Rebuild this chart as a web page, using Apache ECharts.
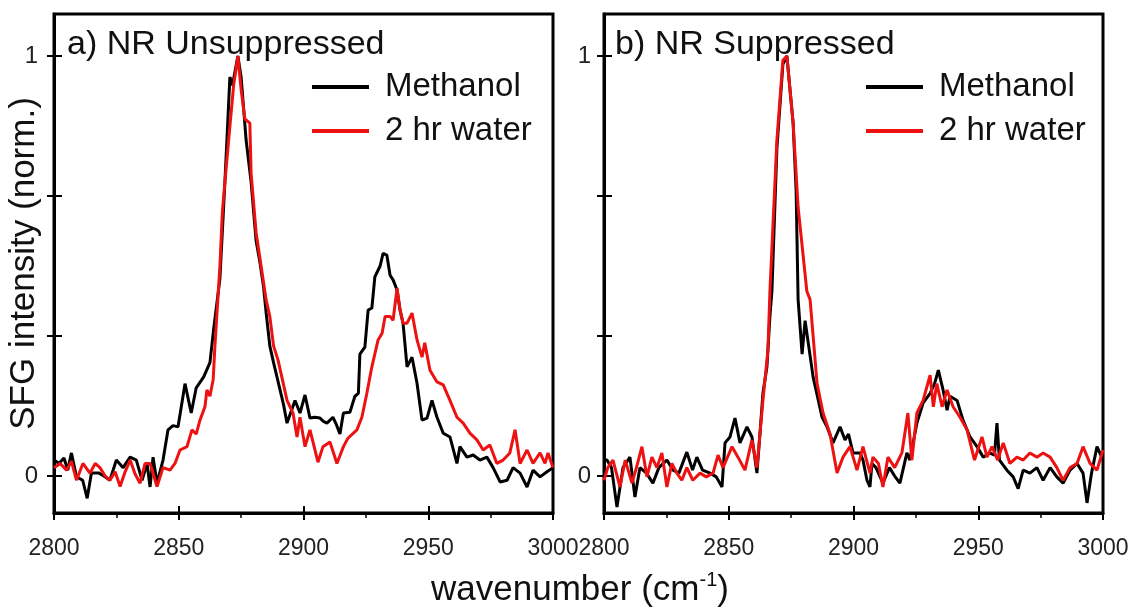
<!DOCTYPE html>
<html><head><meta charset="utf-8">
<script src="https://cdn.jsdelivr.net/npm/echarts@6/dist/echarts.min.js"></script>
<style>html,body{margin:0;padding:0;background:#fff}#c{width:1130px;height:611px}</style>
</head><body><div id="c"></div>
<script>
// ---- data: [wavenumber (cm-1), normalized SFG intensity] ----
const panelTitles = ['a) NR Unsuppressed', 'b) NR Suppressed'];
const seriesNames = ['Methanol', '2 hr water'];
const xTicks = [2800, 2850, 2900, 2950, 3000];
const yTickValues = [0, 1/3, 2/3, 1];
const yLabelValues = [0, 1];

const unsuppMethanol = [[2800,0.038],[2802,0.03],[2804,0.043],[2805.5,0.014],[2807,0.055],[2809,-0.002],[2811.5,-0.01],[2813.3,-0.053],[2815,0.007],[2818,0.007],[2820,0.0],[2822.4,-0.01],[2825,0.038],[2827.7,0.02],[2830.5,0.045],[2833,0.038],[2835.3,-0.01],[2837.3,0.03],[2838.5,-0.026],[2839.7,0.045],[2841.3,-0.017],[2843.7,0.038],[2845.7,0.11],[2847.7,0.12],[2849.7,0.117],[2851.7,0.19],[2852.5,0.22],[2855,0.15],[2857,0.21],[2860,0.236],[2862.5,0.27],[2864,0.35],[2866.5,0.47],[2868.5,0.70],[2870.5,0.95],[2871.5,0.93],[2873.7,1.0],[2875,0.95],[2877,0.8],[2879,0.70],[2881,0.56],[2882.5,0.51],[2884,0.45],[2885,0.39],[2886.5,0.31],[2888,0.27],[2890.6,0.205],[2892,0.17],[2893.4,0.126],[2896.6,0.18],[2898.6,0.15],[2900.6,0.193],[2902.6,0.138],[2904.5,0.14],[2906.6,0.138],[2908,0.13],[2909.4,0.126],[2911.8,0.14],[2913,0.125],[2914.6,0.10],[2916,0.15],[2918.6,0.152],[2920.6,0.19],[2922,0.197],[2922.6,0.29],[2924.6,0.307],[2925.9,0.395],[2927.4,0.40],[2928.6,0.474],[2930.7,0.50],[2931.9,0.53],[2933.4,0.526],[2934.7,0.478],[2935.9,0.467],[2937.5,0.443],[2938.7,0.395],[2939.9,0.364],[2941.5,0.26],[2943.5,0.283],[2945.5,0.221],[2947.5,0.133],[2949.5,0.138],[2951.5,0.18],[2953.5,0.14],[2956,0.102],[2958.7,0.093],[2961.5,0.03],[2962.7,0.07],[2965.5,0.045],[2968,0.05],[2970.7,0.038],[2973.5,0.045],[2976,0.02],[2978.8,-0.014],[2981.6,-0.01],[2984,0.02],[2986.8,0.007],[2989.6,-0.026],[2992,0.014],[2994.8,-0.002],[2997.6,0.01],[3000,0.02]];

const unsuppWater = [[2800,0.02],[2802.5,0.03],[2805,0.014],[2807,0.035],[2809,-0.01],[2811.6,0.03],[2814.4,0.007],[2816.5,0.03],[2818.4,0.02],[2820.5,0.0],[2822.4,-0.01],[2824.5,0.01],[2826.5,-0.025],[2828.5,0.01],[2830.5,0.038],[2832.5,0.005],[2834.5,-0.017],[2836.5,0.03],[2838.5,0.03],[2840,0.0],[2841.3,-0.025],[2843.7,0.02],[2846.5,0.014],[2848.5,0.03],[2850.5,0.062],[2853.3,0.07],[2855.3,0.11],[2857,0.1],[2858.5,0.133],[2860.5,0.165],[2861.3,0.205],[2862.5,0.19],[2863.8,0.23],[2864.5,0.31],[2866.5,0.50],[2867.5,0.63],[2868.5,0.70],[2870,0.8],[2872,0.93],[2873.7,1.0],[2875,0.92],[2876.5,0.85],[2878.5,0.84],[2879,0.72],[2881,0.58],[2883,0.50],[2885,0.42],[2886.5,0.38],[2888,0.31],[2889.8,0.276],[2890.5,0.28],[2893.4,0.18],[2895.8,0.15],[2897.4,0.093],[2898.6,0.14],[2900.6,0.07],[2902.6,0.11],[2905.8,0.033],[2907.8,0.07],[2910.6,0.081],[2913.4,0.03],[2916,0.07],[2917.8,0.09],[2921.4,0.11],[2923.4,0.14],[2925.4,0.197],[2927.4,0.26],[2929.9,0.324],[2931.5,0.34],[2932.7,0.38],[2934.7,0.38],[2935.9,0.371],[2937.5,0.447],[2938.7,0.395],[2939.9,0.364],[2941.5,0.364],[2943.5,0.388],[2945.5,0.324],[2947.5,0.283],[2948.6,0.317],[2950.7,0.252],[2953.5,0.224],[2956,0.217],[2958.7,0.18],[2961.5,0.14],[2964,0.126],[2966.7,0.102],[2969.5,0.086],[2972,0.062],[2974.7,0.074],[2977.5,0.03],[2980,0.038],[2982.7,0.055],[2984.8,0.11],[2986.8,0.03],[2989.6,0.062],[2992,0.03],[2994.8,0.055],[2996.8,0.03],[2998,0.055],[3000,0.02]];

const suppMethanol = [[2800,0.038],[2801.2,0.038],[2803,0.02],[2805.2,-0.074],[2807.6,0.02],[2810.4,0.045],[2812.4,-0.05],[2814.4,0.02],[2817,0.007],[2819.6,-0.017],[2822,0.02],[2825.2,0.038],[2827.7,0.014],[2830,0.007],[2833.2,0.057],[2835.5,0.014],[2837.2,0.045],[2839.5,0.014],[2842.5,0.007],[2845,-0.002],[2847.3,-0.026],[2848.5,0.079],[2850.5,0.093],[2852.5,0.138],[2854.5,0.079],[2857.3,0.117],[2859.3,0.093],[2861.3,0.007],[2862.5,0.10],[2863.7,0.197],[2865.3,0.26],[2866.5,0.38],[2867.3,0.44],[2869.3,0.78],[2871.7,0.98],[2873.3,1.0],[2875.8,0.84],[2877,0.68],[2877.8,0.42],[2879.4,0.29],[2880.6,0.37],[2883.8,0.236],[2887.4,0.14],[2889.4,0.117],[2891.8,0.079],[2894.6,0.117],[2896.6,0.086],[2898,0.10],[2899.8,0.055],[2902.6,0.055],[2903.8,0.038],[2905.4,-0.01],[2906.6,-0.026],[2907.4,0.03],[2909,0.02],[2911.8,-0.017],[2914.4,0.02],[2916.5,0.0],[2918.6,-0.017],[2921.4,0.055],[2922.6,0.038],[2925.4,0.126],[2927.9,0.174],[2930.7,0.197],[2932.5,0.22],[2934,0.252],[2935.9,0.205],[2937.5,0.157],[2938.7,0.19],[2941.5,0.18],[2943.9,0.133],[2946.7,0.093],[2949.5,0.07],[2952,0.045],[2954.5,0.055],[2956.5,0.05],[2957.5,0.126],[2958.5,0.038],[2961.5,0.014],[2964,-0.002],[2966,-0.03],[2968,0.014],[2970.7,0.007],[2973.5,0.02],[2976,-0.01],[2978.8,0.02],[2981.5,-0.002],[2984,-0.017],[2986.8,0.014],[2989.6,0.03],[2992,0.007],[2993.6,-0.064],[2995.4,0.007],[2997.6,0.07],[3000,0.038]];

const suppWater = [[2800,-0.01],[2801.5,0.02],[2803.6,0.038],[2806.4,-0.026],[2808.5,0.038],[2811.2,-0.017],[2813,0.02],[2815.2,0.07],[2817.2,-0.002],[2819.2,0.045],[2821.2,0.02],[2823.2,0.055],[2825.2,-0.026],[2827.2,0.03],[2829.2,0.007],[2831.2,-0.01],[2833.2,0.02],[2835.6,-0.01],[2838.5,0.007],[2841,-0.002],[2843.7,0.007],[2845.7,0.05],[2847.7,0.02],[2851.3,0.07],[2853.7,0.045],[2856.5,0.014],[2859.3,0.086],[2861.3,0.02],[2863.7,0.18],[2865.7,0.3],[2866.5,0.44],[2869.3,0.8],[2871.7,0.99],[2873.3,1.0],[2875.8,0.84],[2877.8,0.64],[2881.3,0.44],[2882.6,0.42],[2885.4,0.22],[2887.8,0.15],[2890.6,0.10],[2893.4,0.007],[2895.8,0.045],[2898.6,0.07],[2901.4,0.014],[2903.8,0.07],[2906.6,0.007],[2907.8,0.045],[2910,0.03],[2911.8,-0.026],[2913.8,0.045],[2916.5,0.02],[2919.4,0.055],[2921.8,0.15],[2923.4,0.038],[2925.4,0.15],[2927.9,0.18],[2930.7,0.24],[2932,0.165],[2933.4,0.22],[2935.5,0.165],[2937.5,0.205],[2939.9,0.165],[2942.7,0.14],[2945.5,0.11],[2948.5,0.038],[2951.5,0.093],[2953.5,0.045],[2955.5,0.07],[2957.8,0.038],[2960,0.079],[2962.7,0.03],[2965.5,0.045],[2968,0.038],[2970.7,0.055],[2973.5,0.045],[2976,0.055],[2978.8,0.045],[2981.5,0.02],[2984,-0.01],[2986.8,0.02],[2989.6,0.03],[2992,0.07],[2994.8,0.03],[2997.6,0.014],[3000,0.062]];

// ---- chart ----
const FONT = '"Liberation Sans", Arial, Helvetica, sans-serif';
const BLACK = '#000000', RED = '#ee1111';
const chart = echarts.init(document.getElementById('c'), null, {renderer: 'canvas'});

const grids = [
  {left: 54, top: 14, width: 499, height: 499, show: true, borderColor: '#000', borderWidth: 3, outerBoundsMode: 'none', containLabel: false},
  {left: 604, top: 14, width: 499, height: 499, show: true, borderColor: '#000', borderWidth: 3, outerBoundsMode: 'none', containLabel: false}
];
const xMin = xTicks[0], xMax = xTicks[xTicks.length - 1], xStep = xTicks[1] - xTicks[0];
const yMin = -0.088, yMax = 1.1;
const plain = v => String(Math.round(v * 1000) / 1000);

function xMain(gi) {
  return {type: 'value', gridIndex: gi, min: xMin, max: xMax, interval: xStep, position: 'bottom',
    axisLine: {show: true, onZero: false, lineStyle: {color: '#000', width: 3}},
    axisTick: {show: true, length: 7, lineStyle: {color: '#000', width: 2}},
    minorTick: {show: true, splitNumber: 2, length: 5, lineStyle: {color: '#000', width: 1.5}},
    axisLabel: {show: true, showMinLabel: true, showMaxLabel: true, hideOverlap: false, margin: 24, formatter: plain,
      color: '#222', fontSize: 23, fontFamily: FONT},
    splitLine: {show: false}};
}
function xInner(gi) {
  return {type: 'value', gridIndex: gi, min: xMin, max: xMax, interval: xStep, position: 'bottom',
    axisLine: {show: false, onZero: false}, axisLabel: {show: false}, splitLine: {show: false},
    axisTick: {show: true, inside: true, length: 7, lineStyle: {color: '#000', width: 2}}};
}
function yMain(gi, withName) {
  const a = {type: 'value', gridIndex: gi, min: yMin, max: yMax, position: 'left',
    axisLine: {show: true, onZero: false, lineStyle: {color: '#000', width: 3}},
    axisTick: {show: true, length: 7, customValues: yTickValues, lineStyle: {color: '#000', width: 2}},
    axisLabel: {show: true, customValues: yLabelValues, formatter: plain, margin: gi === 0 ? 16 : 13,
      color: '#222', fontSize: 24, fontFamily: FONT},
    splitLine: {show: false}};
  if (withName) {
    Object.assign(a, {name: 'SFG intensity (norm.)', nameLocation: 'middle', nameGap: 12, nameMoveOverlap: false,
      nameTextStyle: {fontSize: 35, color: '#111', fontFamily: FONT}});
  }
  return a;
}
function yInner(gi) {
  return {type: 'value', gridIndex: gi, min: yMin, max: yMax, position: 'left',
    axisLine: {show: false, onZero: false}, axisLabel: {show: false}, splitLine: {show: false},
    axisTick: {show: true, inside: true, length: 8, customValues: yTickValues, lineStyle: {color: '#000', width: 2}}};
}

function lineSeries(name, data, xi, yi, color) {
  return {type: 'line', name, data, xAxisIndex: xi, yAxisIndex: yi, showSymbol: false, symbol: 'none',
    lineStyle: {color, width: 3}, itemStyle: {color}, animation: false, z: color === RED ? 3 : 2};
}

function legendFor(left) {
  return {left, top: 65, padding: 0, orient: 'vertical', icon: 'rect', itemWidth: 57, itemHeight: 4, itemGap: 0,
    data: seriesNames, selectedMode: false,
    textStyle: {fontSize: 33, fontFamily: FONT, color: '#111', lineHeight: 30, padding: [14, 0, 0, 11]}};
}

chart.setOption({
  backgroundColor: '#fff',
  animation: false,
  grid: grids,
  xAxis: [xMain(0), xInner(0), xMain(1), xInner(1)],
  yAxis: [yMain(0, true), yInner(0), yMain(1, false), yInner(1)],
  legend: [legendFor(312), legendFor(866)],
  series: [
    lineSeries(seriesNames[0], unsuppMethanol, 0, 0, BLACK),
    lineSeries(seriesNames[1], unsuppWater, 0, 0, RED),
    lineSeries(seriesNames[0], suppMethanol, 2, 2, BLACK),
    lineSeries(seriesNames[1], suppWater, 2, 2, RED)
  ],
  graphic: [
    {type: 'text', x: 67, y: 45, style: {text: panelTitles[0], font: '34px ' + FONT, fill: '#111', verticalAlign: 'middle'}},
    {type: 'text', x: 615, y: 45, style: {text: panelTitles[1], font: '34px ' + FONT, fill: '#111', verticalAlign: 'middle'}},
    {type: 'text', x: 580, y: 590, style: {
      text: '{a|wavenumber (cm}{s|-1}{a|)}', align: 'center', verticalAlign: 'middle',
      rich: {a: {fontSize: 35, fontFamily: FONT, fill: '#111', lineHeight: 40},
             s: {fontSize: 20, fontFamily: FONT, fill: '#111', verticalAlign: 'top', lineHeight: 40, padding: [0, 0, 14, 0]}}}}
  ]
});
</script></body></html>
